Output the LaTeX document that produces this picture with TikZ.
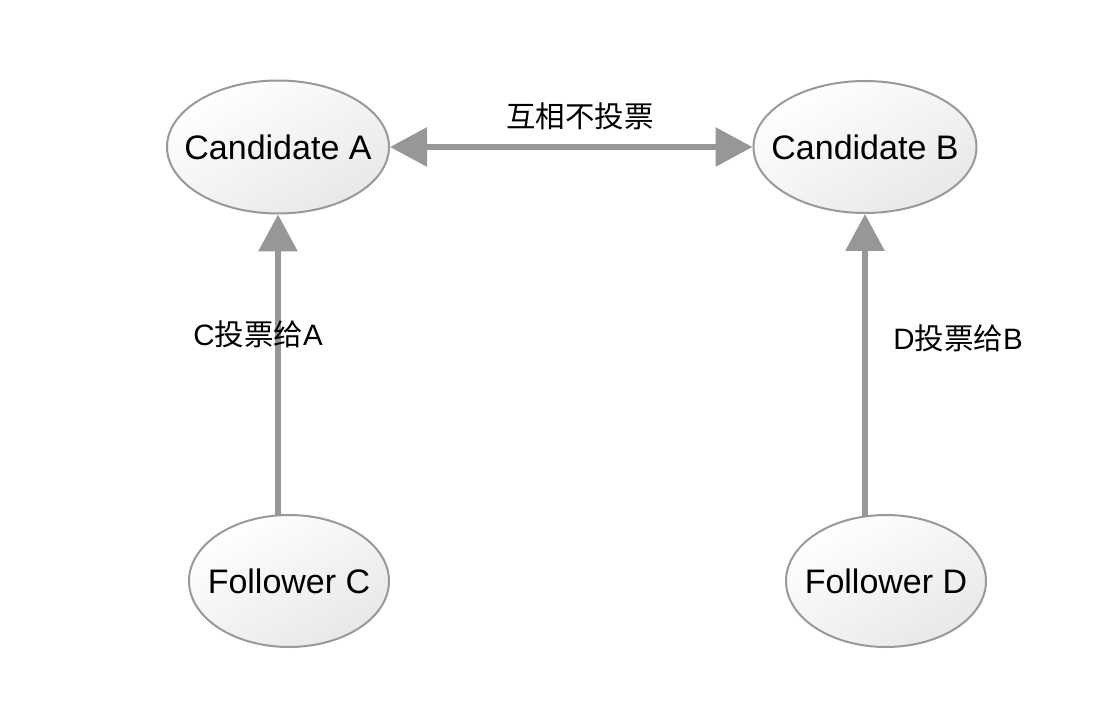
\documentclass[tikz,border=0pt]{standalone}
\usepackage{fontspec}
\setmainfont{Liberation Sans}
\newfontfamily\cjk{Noto Sans CJK SC}
\usetikzlibrary{shapes.geometric,arrows.meta}
\definecolor{edgegray}{HTML}{979797}
\definecolor{bordergray}{HTML}{999999}
\begin{document}
\begin{tikzpicture}[x=1pt,y=-1pt,
  state/.style={ellipse,draw=bordergray,line width=2pt,inner sep=0pt,
    top color=white,bottom color=black!9,shading angle=30,
    label={[font=\fontsize{34}{40}\selectfont]center:#1}},
  arr/.style={draw=edgegray,line width=6pt,
    -{Triangle[length=37pt,width=38pt]}},
  darr/.style={draw=edgegray,line width=6pt,
    {Triangle[length=37pt,width=38pt]}-{Triangle[length=37pt,width=38pt]}},
  lbl/.style={font=\fontsize{29.5}{34}\selectfont,inner sep=0pt}]
\useasboundingbox (0,0) rectangle (1114,714);
\node[state={Candidate A},minimum width=222pt,minimum height=133pt] (ca) at (278,147) {};
\node[state={Candidate B},minimum width=223pt,minimum height=132pt] (cb) at (865,147) {};
\node[state={Follower C},minimum width=200pt,minimum height=132pt] (fc) at (289,581) {};
\node[state={Follower D},minimum width=200pt,minimum height=132pt] (fd) at (886,581) {};
\draw[darr] (ca) -- (cb);
\coordinate (cstart) at (278,515);
\coordinate (dstart) at (865,517);
\draw[arr] (cstart) -- (ca.south);
\draw[arr] (dstart) -- (cb.south);
\node[lbl] (l1) at (580,116) {\cjk 互相不投票};
\node[lbl] (l2) at (258,334) {C{\cjk 投票给}A};
\node[lbl] (l3) at (958,338) {D{\cjk 投票给}B};
\end{tikzpicture}
\end{document}
